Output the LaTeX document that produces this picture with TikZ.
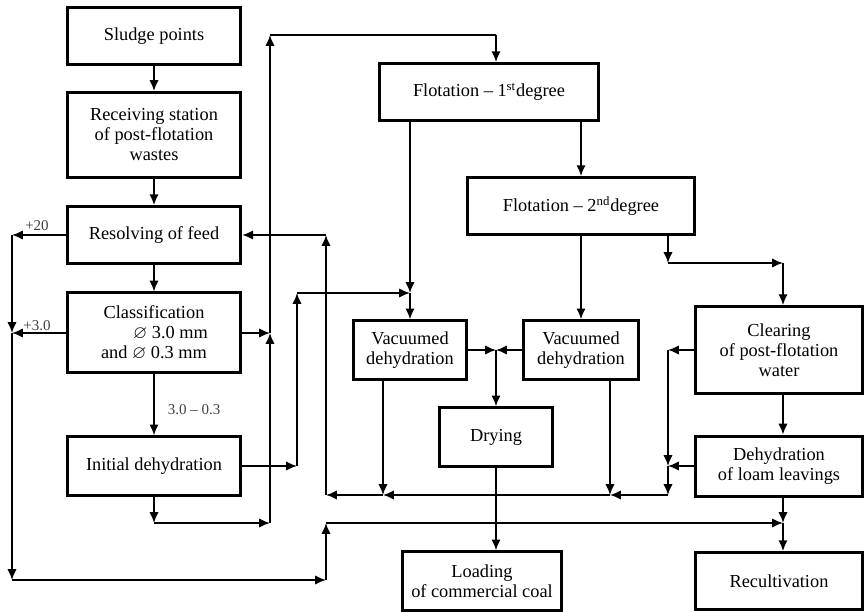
\documentclass[tikz,border=0pt]{standalone}
\usepackage{amssymb}
\usepackage{fontspec}
\setmainfont{Liberation Serif}
\usetikzlibrary{arrows.meta}

\begin{document}
\begin{tikzpicture}[->,>={Latex[length=6.5pt, width=5.6pt]}
				,x=0.6pt,y=-0.6pt
				,font={\fontsize{11pt}{12pt}\selectfont}
				,line width=1.1pt
				,stage/.style={draw,line width=1.8pt,align=center,inner sep=1pt}
				,lbl/.style={font={\fontsize{9pt}{10pt}\selectfont},text=black!75}]
		
		\useasboundingbox (0,0) rectangle (864,612);
		
		% left column
		\node[stage, minimum width=104pt, minimum height=34pt] (sludge) at (154,36) {Sludge points};
		\node[stage, minimum width=104pt, minimum height=51pt] (receiving) at (154,135) {Receiving station\\of post-flotation\\wastes};
		\node[stage, minimum width=104pt, minimum height=34pt] (resolving) at (154,235) {Resolving of feed};
		\node[stage, minimum width=104pt, minimum height=48pt] (classif) at (154,333) {Classification\\\hspace*{1.8em}$\varnothing$ 3.0 mm\\and $\varnothing$ 0.3 mm};
		\node[stage, minimum width=104pt, minimum height=35pt] (initDehyd) at (154,466) {Initial dehydration};
		
		% flotation and dehydration
		\node[stage, minimum width=131pt, minimum height=34pt] (flot1) at (489,92) {Flotation -- 1\textsuperscript{st}degree};
		\node[stage, minimum width=136pt, minimum height=34pt] (flot2) at (581,206) {Flotation -- 2\textsuperscript{nd}degree};
		\node[stage, minimum width=68pt, minimum height=35pt] (vac1) at (410,350) {Vacuumed\\dehydration};
		\node[stage, minimum width=69pt, minimum height=35pt] (vac2) at (581,350) {Vacuumed\\dehydration};
		\node[stage, minimum width=68pt, minimum height=35pt] (drying) at (496,437) {Drying};
		\node[stage, minimum width=95pt, minimum height=35pt] (loading) at (482,581) {Loading\\of commercial coal};
		
		% water side
		\node[stage, minimum width=100pt, minimum height=52pt] (clearing) at (779,350) {Clearing\\of post-flotation\\water};
		\node[stage, minimum width=100pt, minimum height=36pt] (loamDehyd) at (779,466) {Dehydration\\of loam leavings};
		\node[stage, minimum width=100pt, minimum height=34pt] (recult) at (779,581) {Recultivation};
		
		\node[lbl] (lbl20) at (37,226) {+20};
		\node[lbl] (lbl30) at (37,326) {+3.0};
		\node[lbl] (lblSize) at (194,410) {3.0 -- 0.3};
		
		\coordinate (j20) at (12,235);
		\coordinate (j30) at (12,333);
		\coordinate (jLeftBot) at (12,580);
		\coordinate (jBotRet) at (326,580);
		\coordinate (jRecIn) at (326,523);
		\coordinate (jRec) at (783,523);
		\coordinate (jClassR) at (270,333);
		\coordinate (jInitBot) at (154,523);
		\coordinate (jInitBotR) at (270,523);
		\coordinate (jTopL) at (270,35);
		\coordinate (jTopR) at (496,35);
		\coordinate (jInitR) at (297,466);
		\coordinate (jFeedL) at (297,293);
		\coordinate (jFeed) at (410,293);
		\coordinate (jVac) at (496,350);
		\coordinate (jFl2Out) at (668,263);
		\coordinate (jClearIn) at (783,263);
		\coordinate (jClearW) at (668,350);
		\coordinate (jLoamW) at (668,466);
		\coordinate (jLoamBot) at (668,495);
		\coordinate (jVac2Bot) at (610,495);
		\coordinate (jVac1Bot) at (383,495);
		\coordinate (jRetBot) at (326,495);
		\coordinate (jRetTop) at (326,235);
		
		\foreach \a/\b in {sludge/receiving,receiving/resolving,resolving/classif,classif/initDehyd}
			\draw (\a) -- (\b);
		
		% coarse fractions to the bottom line
		\draw (resolving.west) -- (j20);
		\draw (j20) -- (j30);
		\draw (classif.west) -- (j30);
		\draw (j30) -- (jLeftBot);
		\draw (jLeftBot) -- (jBotRet);
		\draw (jBotRet) -- (jRecIn);
		\draw (jRecIn) -- (jRec);
		\draw (loamDehyd.south -| jRec) -- (jRec);
		\draw (jRec) -- (jRec |- recult.north);
		
		% feed of the 1st flotation
		\draw (classif.east) -- (jClassR);
		\draw (initDehyd.south) -- (jInitBot);
		\draw (jInitBot) -- (jInitBotR);
		\draw (jInitBotR) -- (jClassR);
		\draw (jClassR) -- (jTopL);
		\draw[-] (jTopL) -- (jTopR);
		\draw (jTopR) -- (jTopR |- flot1.north);
		
		\draw (initDehyd.east) -- (jInitR);
		\draw (jInitR) -- (jFeedL);
		\draw (jFeedL) -- (jFeed);
		\draw (flot1.south -| jFeed) -- (jFeed);
		\draw (jFeed) -- (vac1.north);
		\draw (flot1.south -| flot2) -- (flot2.north);
		\draw (flot2) -- (vac2);
		
		\draw (vac1.east) -- (jVac);
		\draw (vac2.west) -- (jVac);
		\draw (jVac) -- (drying.north);
		\draw (drying.south) -- (drying.south |- loading.north);
		
		% water and loam
		\draw (flot2.south -| jFl2Out) -- (jFl2Out);
		\draw (jFl2Out) -- (jClearIn);
		\draw (jClearIn) -- (jClearIn |- clearing.north);
		\draw (clearing.south -| jRec) -- (jRec |- loamDehyd.north);
		\draw (clearing.west) -- (jClearW);
		\draw (jClearW) -- (jLoamW);
		\draw (loamDehyd.west) -- (jLoamW);
		\draw (jLoamW) -- (jLoamBot);
		\draw (jLoamBot) -- (jVac2Bot);
		\draw (vac2.south -| jVac2Bot) -- (jVac2Bot);
		\draw (jVac2Bot) -- (jVac1Bot);
		\draw (vac1.south -| jVac1Bot) -- (jVac1Bot);
		\draw (jVac1Bot) -- (jRetBot);
		\draw (jRetBot) -- (jRetTop);
		\draw (jRetTop) -- (resolving.east);
		\end{tikzpicture}
\end{document}
